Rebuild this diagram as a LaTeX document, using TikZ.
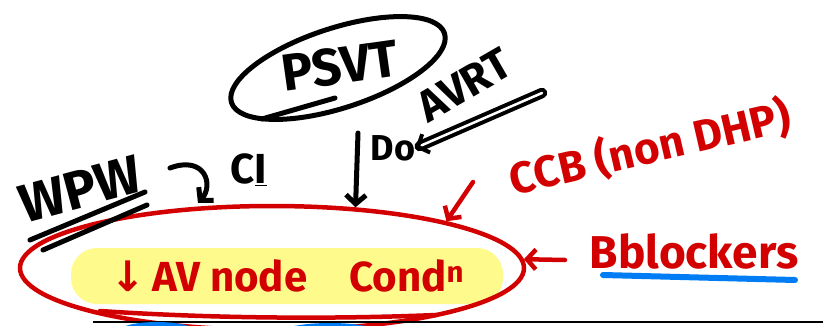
\documentclass[tikz,border=0pt]{standalone}
\usepackage{fontspec}
\setmainfont{Fira Sans}
\newfontfamily\arrowfont{DejaVu Sans}
\usepackage{tikz}
\usetikzlibrary{shapes.geometric, arrows.meta, positioning}
\definecolor{penred}{RGB}{210,0,0}
\definecolor{hiyellow}{RGB}{255,250,140}
\definecolor{penblue}{RGB}{0,125,245}

\begin{document}
\begin{tikzpicture}[
    x=1pt, y=1pt,
    ink/.style={line width=5pt, line cap=round, line join=round},
    redink/.style={ink, draw=penred, line width=4.5pt},
    label/.style={inner sep=0pt, font=\fontsize{#1}{#1}\selectfont\bfseries},
    label/.default=44,
    arrow/.style={-{Straight Barb[length=9pt, width=20pt]}},
    ring/.style={ellipse, draw=penred, line width=4.5pt, minimum width=504, minimum height=124, inner sep=0pt}
]
    \useasboundingbox (0,0) rectangle (823,325);

    % highlighted condition and the ring round it
    \node[label=42, fill=hiyellow, text=penred, rounded corners=26, minimum width=432, minimum height=56] (cond) at (287,49) {{\arrowfont ↓}\,AV node\quad Cond\textsuperscript{n}};
    \node[ring] (ring) at (272,57) {};
    \draw[redink] (100,14) .. controls (220,6) and (340,6) .. (436,10);

    % top: PSVT
    \node[label=52, rotate=8] (psvt) at (340,259) {PSVT};
    \draw[ink, rotate around={18:(338,257)}] (338,257) ellipse [x radius=112, y radius=40];
    \draw[ink] (262,206) -- (335,227);

    % AVRT and Do
    \node[label=44, rotate=30] (avrt) at (464,240) {AVRT};
    \node[label=36] (do) at (393,177) {Do};
    \coordinate (avrtend) at (542,232);
    \draw[ink, arrow, line width=4pt, double, double distance=2.5pt] (avrtend) -- (do.east);
    \coordinate (dotop) at (358,192);
    \draw[ink, arrow, line width=5pt] (dotop) -- (ring.36);

    % left: WPW and CI
    \node[label=54, rotate=15] (wpw) at (80,136) {WPW};
    \draw[ink] (30,85) -- (145,133);
    \draw[ink] (43,75) -- (147,120);
    \coordinate (hookstart) at (170,157);
    \coordinate (hookend) at (198,122);
    \draw[ink, arrow, line width=5pt] (hookstart) .. controls (205,170) and (214,140) .. (hookend);
    \node[label=42] (ci) at (249,155) {C\underline{I}};

    % right: CCB and beta blockers
    \node[label=44, text=penred, rotate=13] (ccb) at (650,177) {CCB (non DHP)};
    \coordinate (ccbtail) at (473,143);
    \draw[redink, arrow] (ccbtail) -- (ring.15);
    \node[label=46, text=penred] (bbl) at (694,74) {Bblockers};
    \coordinate (bbltail) at (565,65);
    \draw[redink, arrow] (bbltail) -- (ring.2);
    \draw[ink, draw=penblue, line width=6pt] (603,50) -- (795,45);

    % bottom edge
    \draw[line width=1.2pt] (93,3) -- (823,3);
    \fill[penblue] (157,-6) ellipse [x radius=38, y radius=9];
    \fill[penblue] (330,-8) ellipse [x radius=50, y radius=10];
\end{tikzpicture}
\end{document}
